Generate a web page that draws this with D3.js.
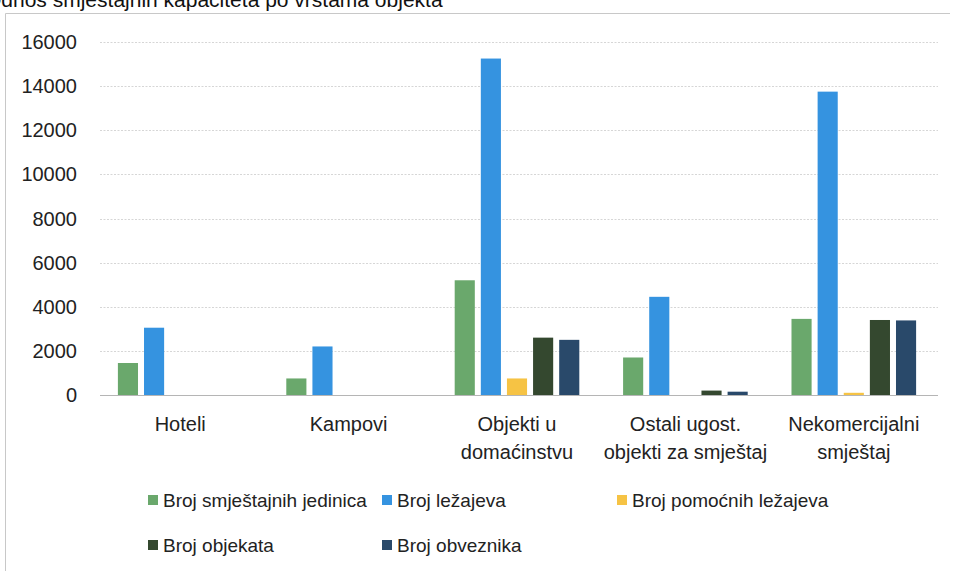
<!DOCTYPE html>
<html>
<head>
<meta charset="utf-8">
<script src="https://cdn.jsdelivr.net/npm/d3@7"></script>
<style>
  body { margin: 0; background: #fff; }
  svg { display: block; font-family: "Liberation Sans", Arial, sans-serif; }
</style>
</head>
<body>
<svg id="chart" width="956" height="571"></svg>
<script>
// categories (x axis), two-line labels split on "|"
const categories = ["Hoteli", "Kampovi", "Objekti u|domaćinstvu", "Ostali ugost.|objekti za smještaj", "Nekomercijalni|smještaj"];

// series, values
const seriesNames = ["Broj smještajnih jedinica", "Broj ležajeva", "Broj pomoćnih ležajeva", "Broj objekata", "Broj obveznika"];
const jedinice  = [1450, 750, 5200, 1700, 3450];
const lezajevi  = [3050, 2200, 15250, 4450, 13750];
const pomocni   = [0, 0, 750, 0, 100];
const objekti   = [0, 0, 2600, 200, 3400];
const obveznici = [0, 0, 2500, 150, 3380];
const yTicks = [0, 2000, 4000, 6000, 8000, 10000, 12000, 14000, 16000];

const colors = ["#6aa86c", "#3593e0", "#f6c344", "#34482f", "#29496a"];
const seriesValues = [jedinice, lezajevi, pomocni, objekti, obveznici];

const svg = d3.select("#chart");
const margin = {left: 96, right: 18, top: 42, bottom: 176};
const width = 956, height = 571;

// frame + title (top edge cut off, as in the scan)
svg.append("path")
    .attr("d", "M5.5,580 V13.5 H950")
    .attr("fill", "none")
    .attr("stroke", "#c8c8c8")
    .attr("stroke-width", 1);

svg.append("text")
    .attr("x", -15)
    .attr("y", 7)
    .attr("font-size", 21)
    .attr("fill", "#111")
    .text("Odnos smještajnih kapaciteta po vrstama objekta");

const x0 = d3.scaleBand()
    .domain(categories)
    .range([margin.left, width - margin.right])
    .paddingInner(0.26)
    .paddingOuter(0.13);

const x1 = d3.scaleBand()
    .domain(seriesNames)
    .range([0, x0.bandwidth()])
    .paddingInner(0.23);

const y = d3.scaleLinear()
    .domain([0, 16000])
    .range([height - margin.bottom, margin.top]);

// gridlines
svg.append("g")
    .selectAll("line")
    .data(yTicks)
    .join("line")
    .attr("x1", margin.left + 4)
    .attr("x2", width - margin.right)
    .attr("y1", d => Math.round(y(d)) + 0.5)
    .attr("y2", d => Math.round(y(d)) + 0.5)
    .attr("stroke", d => d === 0 ? "#b5b5b5" : "#d6d6d6")
    .attr("stroke-dasharray", d => d === 0 ? null : "2,1.5")
    .attr("stroke-width", 1);

// y axis labels
svg.append("g")
    .selectAll("text")
    .data(yTicks)
    .join("text")
    .attr("x", 77)
    .attr("y", d => y(d))
    .attr("dy", "0.35em")
    .attr("text-anchor", "end")
    .attr("font-size", 20)
    .attr("fill", "#222")
    .text(d => d);

// bars
const groups = svg.append("g")
    .selectAll("g")
    .data(categories)
    .join("g")
    .attr("transform", d => `translate(${x0(d)},0)`);

groups.selectAll("rect")
    .data((d, i) => seriesNames.map((s, j) => ({s, j, v: seriesValues[j][i]})))
    .join("rect")
    .attr("x", d => x1(d.s))
    .attr("width", x1.bandwidth())
    .attr("y", d => y(d.v))
    .attr("height", d => y(0) - y(d.v))
    .attr("fill", d => colors[d.j]);

// category labels
const catLabels = svg.append("g")
    .selectAll("text")
    .data(categories)
    .join("text")
    .attr("text-anchor", "middle")
    .attr("font-size", 20)
    .attr("fill", "#222")
    .attr("transform", d => `translate(${x0(d) + x0.bandwidth() / 2},${y(0) + 36})`);

catLabels.selectAll("tspan")
    .data(d => d.split("|"))
    .join("tspan")
    .attr("x", 0)
    .attr("dy", (d, i) => i === 0 ? 0 : 28)
    .text(d => d);

// legend
const legendPos = [[148, 500], [382, 500], [617, 500], [148, 545], [382, 545]];
const legend = svg.append("g")
    .selectAll("g")
    .data(seriesNames)
    .join("g")
    .attr("transform", (d, i) => `translate(${legendPos[i][0]},${legendPos[i][1]})`);

legend.append("rect")
    .attr("x", 0)
    .attr("y", -5)
    .attr("width", 10)
    .attr("height", 10)
    .attr("fill", (d, i) => colors[i]);

legend.append("text")
    .attr("x", 15)
    .attr("dy", "0.35em")
    .attr("font-size", 19)
    .attr("fill", "#222")
    .text(d => d);
</script>
</body>
</html>
